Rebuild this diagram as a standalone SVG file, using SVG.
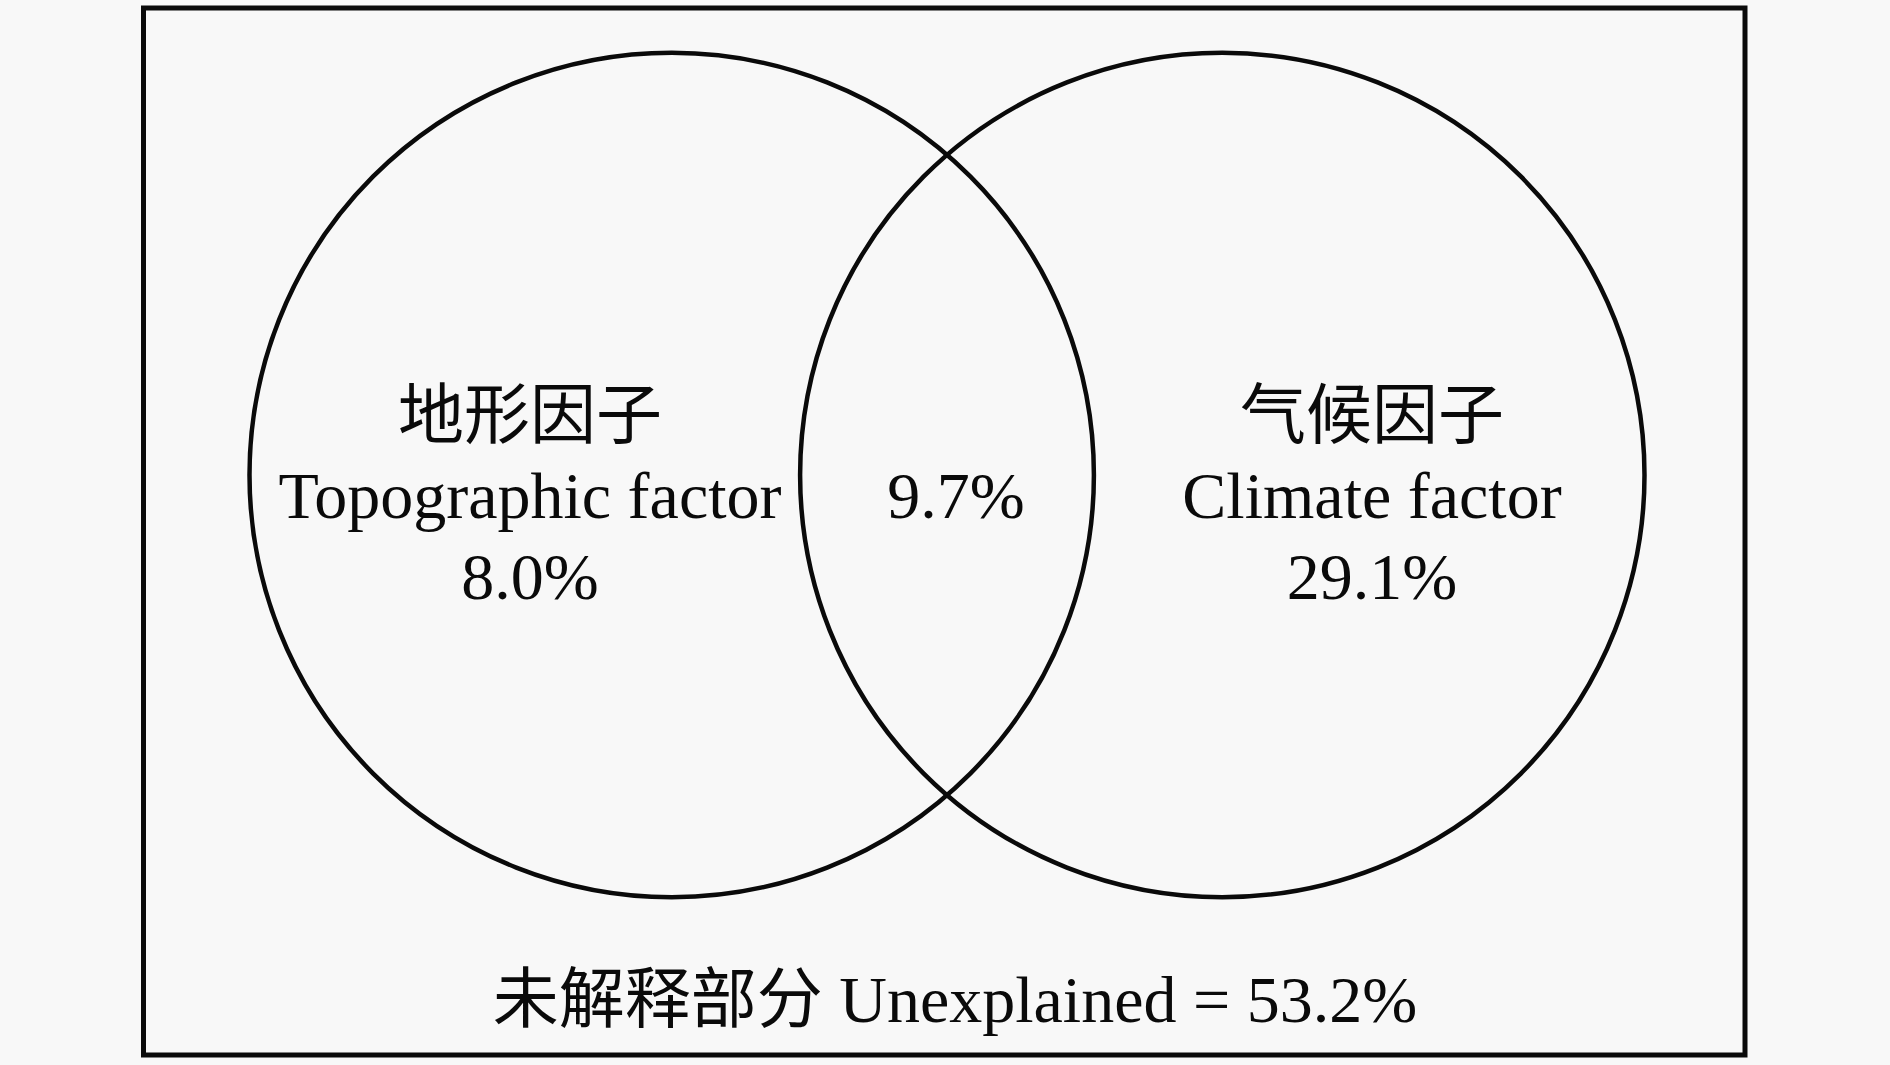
<svg xmlns="http://www.w3.org/2000/svg" width="1890" height="1065" viewBox="0 0 1890 1065">
<style>
.t{font-family:"Liberation Serif","Noto Sans CJK SC",serif;font-size:66px;fill:#0a0a0a;text-anchor:middle}
.c{fill:none;stroke:#0a0a0a;stroke-width:4.5}
</style>
<rect x="0" y="0" width="1890" height="1065" fill="#f8f8f8"/>
<g id="frame"><rect x="143.5" y="8" width="1601.5" height="1047" fill="none" stroke="#0a0a0a" stroke-width="5"/></g>
<g id="topographic">
<circle class="c" cx="671.7" cy="475" r="422.2"/>
<text class="t" x="530" y="438">地形因子</text>
<text class="t" x="530" y="518">Topographic factor</text>
<text class="t" x="530" y="599">8.0%</text>
</g>
<g id="climate">
<circle class="c" cx="1222.3" cy="475" r="422.2"/>
<text class="t" x="1372" y="438">气候因子</text>
<text class="t" x="1372" y="518">Climate factor</text>
<text class="t" x="1372" y="599">29.1%</text>
</g>
<g id="shared"><text class="t" x="956" y="518">9.7%</text></g>
<g id="unexplained"><text class="t" x="955" y="1022">未解释部分 Unexplained = 53.2%</text></g>
<g id="connectors"></g>
</svg>
